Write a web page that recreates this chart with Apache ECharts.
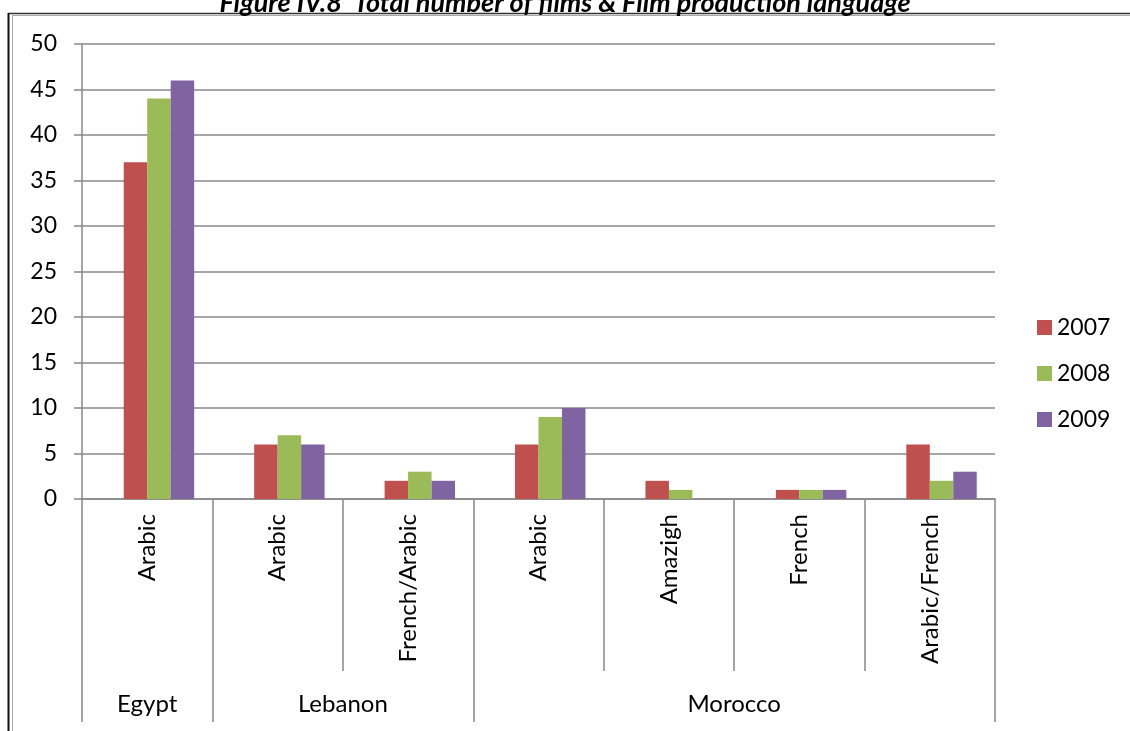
<!DOCTYPE html>
<html>
<head>
<meta charset="utf-8">
<style>
  html, body { margin: 0; padding: 0; background: #fff; }
  #chart { width: 1130px; height: 731px; }
</style>
<script src="https://cdn.jsdelivr.net/npm/echarts@6/dist/echarts.min.js"></script>
</head>
<body>
<div id="chart"></div>
<script>
// Languages (inner axis level) and countries (outer axis level)
const languages = ['Arabic', 'Arabic', 'French/Arabic', 'Arabic', 'Amazigh', 'French', 'Arabic/French'];
const countries = ['Egypt', 'Lebanon', 'Morocco'];
// Country spans along the language axis, in category units
const countryCenters = [0.5, 2, 5];
const countryBounds = [0, 1, 3, 7];

const years = ['2007', '2008', '2009'];
const films2007 = [37, 6, 2, 6, 2, 1, 6];
const films2008 = [44, 7, 3, 9, 1, 1, 2];
const films2009 = [46, 6, 2, 10, 0, 1, 3];
// empty leading column slot in every cluster (no values)
const blankColumn = [null, null, null, null, null, null, null];

const yTicks = { min: 0, max: 50, interval: 5 };

const FONT = 'Lato, "Open Sans", sans-serif';
const GRID = '#888888';

const chart = echarts.init(document.getElementById('chart'), null, { renderer: 'canvas' });

const countryByPos = {};
countryCenters.forEach((c, i) => { countryByPos[c] = countries[i]; });

const barCommon = { type: 'bar', xAxisIndex: 0, barGap: '0%', barCategoryGap: '28%' };

chart.setOption({
  backgroundColor: '#ffffff',
  animation: false,
  title: {
    text: 'Figure IV.8  Total number of films & Film production language',
    left: 'center',
    top: -15,
    textStyle: { fontFamily: FONT, fontSize: 27, fontWeight: 'bold', fontStyle: 'italic', color: '#000' }
  },
  legend: {
    orient: 'vertical',
    left: 1037,
    top: 316,
    padding: 0,
    itemWidth: 15,
    itemHeight: 15,
    itemGap: 23,
    icon: 'rect',
    textStyle: { fontFamily: FONT, fontSize: 23, color: '#000' },
    data: years
  },
  grid: { left: 82, right: 135, top: 44, bottom: 232, containLabel: false },
  xAxis: [
    {
      type: 'category',
      data: languages,
      position: 'bottom',
      axisLine: { show: true, lineStyle: { color: GRID, width: 1.5 } },
      axisTick: { show: true, alignWithLabel: false, interval: 0, length: 172, lineStyle: { color: GRID, width: 1.5 } },
      axisLabel: { interval: 0, rotate: 90, margin: 15, fontFamily: FONT, fontSize: 24, color: '#000' },
      splitLine: { show: false }
    },
    {
      type: 'value',
      min: 0,
      max: 7,
      position: 'bottom',
      axisLine: { show: false },
      axisTick: { show: true, customValues: countryBounds, length: 223, lineStyle: { color: GRID, width: 1.5 } },
      axisLabel: {
        customValues: countryCenters,
        margin: 193,
        fontFamily: FONT, fontSize: 24, color: '#000',
        formatter: v => countryByPos[v] || ''
      },
      splitLine: { show: false }
    }
  ],
  yAxis: {
    type: 'value',
    min: yTicks.min,
    max: yTicks.max,
    interval: yTicks.interval,
    axisLine: { show: true, lineStyle: { color: GRID, width: 1.5 } },
    axisTick: { show: true, inside: false, length: 8, lineStyle: { color: GRID, width: 1.5 } },
    axisLabel: { margin: 25, fontFamily: FONT, fontSize: 23, color: '#000' },
    splitLine: { show: true, lineStyle: { color: GRID, width: 1.5 } }
  },
  series: [
    Object.assign({ name: 'blank', data: blankColumn, itemStyle: { color: 'transparent' }, silent: true }, barCommon),
    Object.assign({ name: years[0], data: films2007, itemStyle: { color: '#C0504D' } }, barCommon),
    Object.assign({ name: years[1], data: films2008, itemStyle: { color: '#9BBB59' } }, barCommon),
    Object.assign({ name: years[2], data: films2009, itemStyle: { color: '#8064A2' } }, barCommon)
  ],
  graphic: [
    // page frame: double rule along the top and left edges
    { type: 'line', silent: true, shape: { x1: 8, y1: 13.5, x2: 1130, y2: 13.5 }, style: { stroke: '#333', lineWidth: 1.5 } },
    { type: 'line', silent: true, shape: { x1: 12, y1: 15.5, x2: 1130, y2: 15.5 }, style: { stroke: '#aaa', lineWidth: 1 } },
    { type: 'line', silent: true, shape: { x1: 8.5, y1: 13, x2: 8.5, y2: 731 }, style: { stroke: '#111', lineWidth: 2 } },
    { type: 'line', silent: true, shape: { x1: 12.5, y1: 15, x2: 12.5, y2: 731 }, style: { stroke: '#aaa', lineWidth: 1 } }
  ]
});
</script>
</body>
</html>
